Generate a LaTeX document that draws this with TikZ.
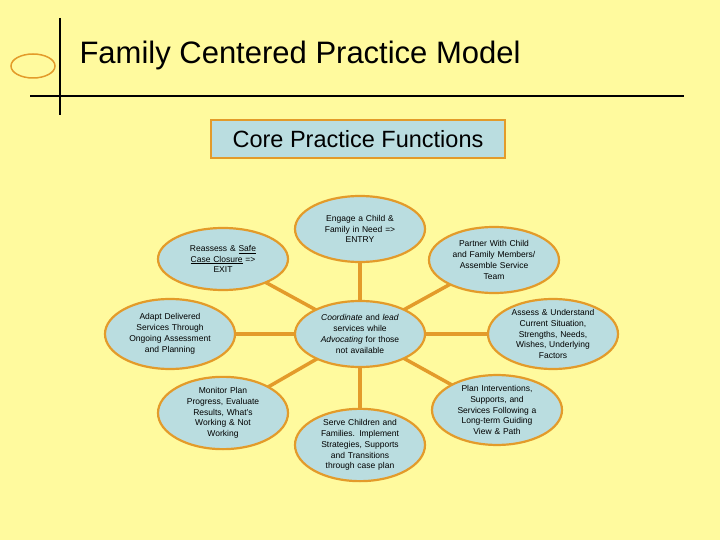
\documentclass[tikz,border=0pt]{standalone}
\usepackage{fontspec}
\setmainfont{Liberation Sans}
\usetikzlibrary{shapes.geometric,backgrounds}
\definecolor{bg}{HTML}{FFFA9E}
\definecolor{orn}{HTML}{E39B2A}
\definecolor{lb}{HTML}{BADDE0}
\begin{document}
\begin{tikzpicture}[x=1pt,y=-1pt,
  el/.style={ellipse,draw=orn,line width=2.2pt,fill=lb,minimum width=130pt,minimum height=66pt,inner sep=0pt,
    font=\fontsize{8.5}{10.8}\selectfont,align=center,text width=86pt},
  conn/.style={draw=orn,line width=3.5pt}]
\node[el] (c) at (360,334) {\emph{Coordinate} and \emph{lead}\\services while\\\emph{Advocating} for those\\not available};
\node[el] (t) at (360,229) {Engage a Child \&\\Family in Need =>\\ENTRY\\[6pt]};
\node[el,minimum height=62pt] (r) at (223,259) {Reassess \& \underline{Safe}\\\underline{Case Closure} =>\\EXIT};
\node[el] (p) at (494,260) {Partner With Child\\and Family Members/\\Assemble Service\\Team};
\node[el,minimum height=70pt] (a) at (170,334) {Adapt Delivered\\Services Through\\Ongoing Assessment\\and Planning};
\node[el,minimum height=70pt] (s) at (553,334) {Assess \& Understand\\Current Situation,\\Strengths, Needs,\\Wishes, Underlying\\Factors};
\node[el] (m) at (223,413) {Monitor Plan\\Progress, Evaluate\\Results, What's\\Working \& Not\\Working\\[4pt]};
\node[el] (v) at (360,445) {Serve Children and\\Families. Implement\\Strategies, Supports\\and Transitions\\through case plan};
\node[el] (pl) at (497,410) {Plan Interventions,\\Supports, and\\Services Following a\\Long-term Guiding\\View \& Path\\[4pt]};
\node[anchor=west,font=\fontsize{31}{36}\selectfont] (title) at (76,55) {Family Centered Practice Model};
\node[draw=orn,line width=1.5pt,fill=lb,minimum width=294pt,minimum height=38pt,font=\fontsize{23.5}{27}\selectfont] (core) at (358,139) {Core Practice Functions};
\begin{scope}[on background layer]
\fill[bg] (0,0) rectangle (720,540);
\draw[line width=1.5pt] (60,18) -- (60,115);
\draw[line width=1.5pt] (30,96) -- (684,96);
\draw[orn,line width=1.5pt] (33,66) ellipse (22pt and 12pt);
\foreach \n in {t,r,p,a,s,m,v,pl}{\path[conn] (c.center) -- (\n.center);}
\end{scope}
\end{tikzpicture}
\end{document}
